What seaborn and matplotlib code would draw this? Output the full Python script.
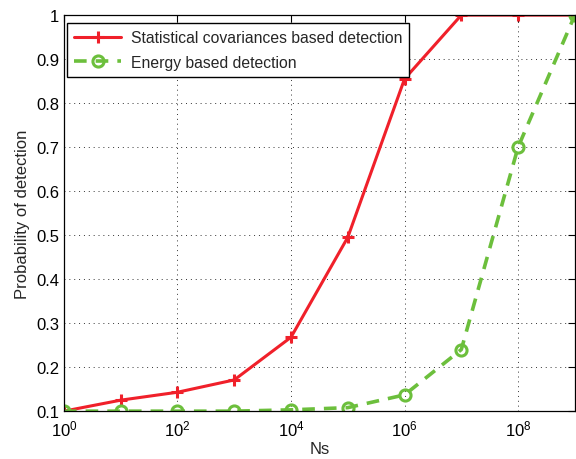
import numpy as np
import pandas as pd
import matplotlib
matplotlib.use("Agg")
import matplotlib.pyplot as plt
import seaborn as sns

ns = [1e0, 1e1, 1e2, 1e3, 1e4, 1e5, 1e6, 1e7, 1e8, 1e9]
cov_pd = [0.100, 0.125, 0.143, 0.171, 0.268, 0.495, 0.855, 1.0, 1.0, 1.0]
energy_pd = [0.100, 0.100, 0.100, 0.100, 0.103, 0.108, 0.137, 0.240, 0.700, 1.0]
labels = ["Statistical covariances based detection", "Energy based detection"]

sns.set_style("white")
plt.rcParams['font.family'] = ['Liberation Sans', 'DejaVu Sans']

df = pd.DataFrame({"Ns": ns * 2,
                   "Pd": cov_pd + energy_pd,
                   "method": [labels[0]] * len(ns) + [labels[1]] * len(ns)})

fig = plt.figure(figsize=(5.76, 4.6), dpi=100)
ax = fig.add_axes([0.111, 0.104, 0.887, 0.861])

red = "#f0202a"
green = "#6cbf3c"
sns.lineplot(data=df[df.method == labels[0]], x="Ns", y="Pd", ax=ax, color=red,
             lw=2.2, marker="+", markersize=9, markeredgewidth=2.2,
             markeredgecolor=red, label=labels[0])
sns.lineplot(data=df[df.method == labels[1]], x="Ns", y="Pd", ax=ax, color=green,
             lw=2.6, ls=(0, (3.5, 2.5)), marker="o", markersize=8,
             markerfacecolor="none", markeredgewidth=2.2, markeredgecolor=green,
             label=labels[1])

ax.set_xscale("log")
ax.set_xlim(1, 1e9)
ax.set_ylim(0.1, 1.0)
ax.set_xticks([1e0, 1e2, 1e4, 1e6, 1e8])
ax.xaxis.set_minor_locator(matplotlib.ticker.NullLocator())
ax.set_yticks(np.arange(0.1, 1.01, 0.1))
ax.set_yticklabels(["0.1", "0.2", "0.3", "0.4", "0.5", "0.6", "0.7", "0.8", "0.9", "1"])
ax.grid(True, color="black", ls=(0, (1, 4)), lw=0.7, alpha=0.8)
ax.tick_params(direction="in", length=5, top=True, right=True, labelsize=12,
               colors="black", width=0.8)
ax.tick_params(axis="x", pad=5)
for s in ax.spines.values():
    s.set_color("black")
    s.set_linewidth(0.9)
ax.set_xlabel("Ns", fontsize=12, labelpad=2)
ax.set_ylabel("Probability of detection", fontsize=12)

leg = ax.legend(loc="upper left", bbox_to_anchor=(0.006, 0.98), borderaxespad=0,
                fontsize=11.3, frameon=True, fancybox=False,
                edgecolor="black", framealpha=1,
                handlelength=3.0, borderpad=0.45, labelspacing=0.6, handletextpad=0.6)
leg.get_frame().set_linewidth(1.0)

fig.savefig("out.png", dpi=100)
